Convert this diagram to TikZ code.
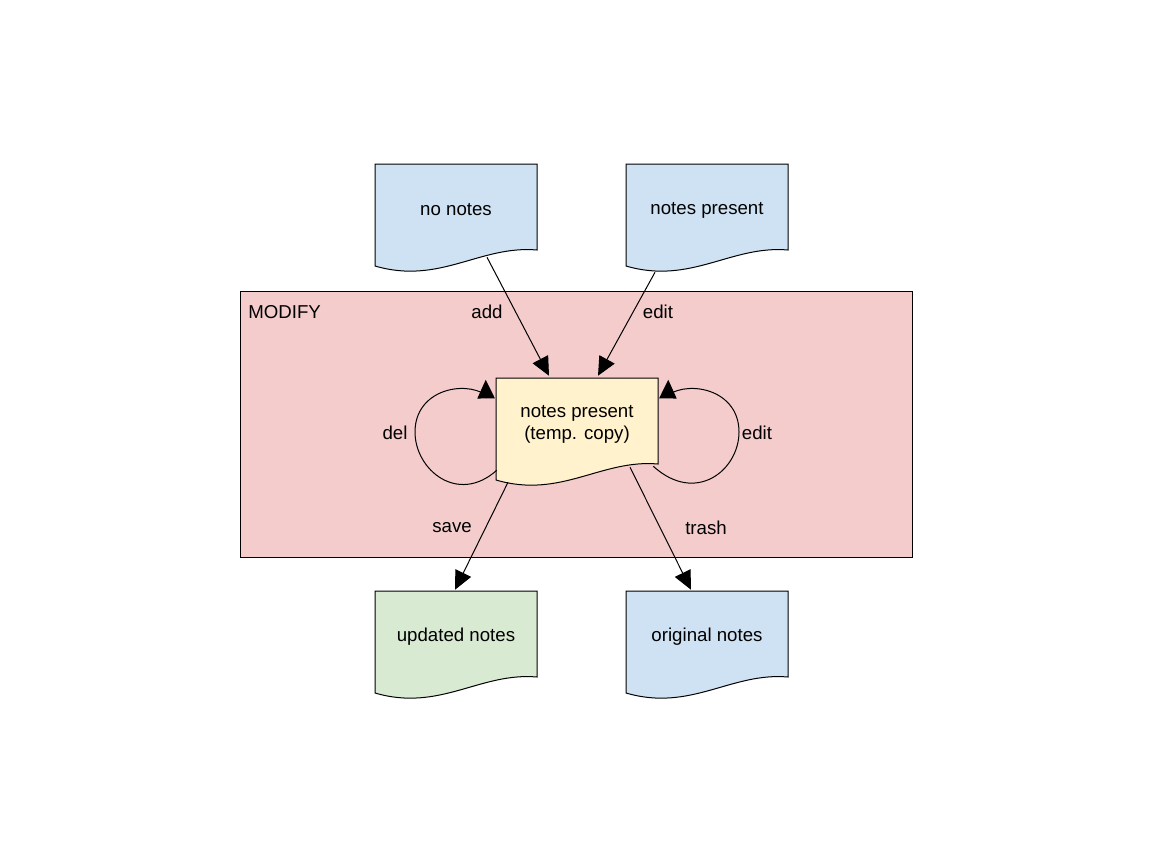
\documentclass[tikz,border=0pt]{standalone}
\usepackage{fontspec}
\setmainfont{Liberation Sans}
\usetikzlibrary{arrows.meta,calc}

\definecolor{noteblue}{HTML}{CFE2F3}
\definecolor{notegreen}{HTML}{D9EAD3}
\definecolor{noteyellow}{HTML}{FFF2CC}
\definecolor{modifyred}{HTML}{F4CCCC}

% document shape: name, centre, fill, text
\newcommand{\notedoc}[4]{%
	\filldraw[fill=#3, line width=0.75pt] ($(#2)+(-81,-43)$) -- ($(#2)+(81,-43)$) -- ($(#2)+(81,43)$)
		.. controls ($(#2)+(24,38)$) and ($(#2)+(-16,78)$) .. ($(#2)+(-81,59)$) -- cycle;
	\node[docbox] (#1) at ($(#2)+(0,3)$) {#4};
}

\begin{document}
\begin{tikzpicture}[x=0.75pt, y=-0.75pt,
		font=\fontsize{14}{16.5}\selectfont,
		docbox/.style={rectangle, minimum width=121.5pt, minimum height=64.5pt, inner sep=0pt, align=center},
		arr/.style={-{Triangle[length=14pt, width=13pt]}, line width=0.75pt}]
	\useasboundingbox (0,0) rectangle (1152,864);

	% modify area
	\filldraw[fill=modifyred, line width=0.75pt] (240,291) rectangle (912,557);
	\node[anchor=west, inner sep=0pt] (modify) at (248,312) {MODIFY};

	% documents
	\notedoc{nonotes}{456,207}{noteblue}{no notes}
	\notedoc{present}{707,207}{noteblue}{notes present}
	\notedoc{temp}{577,421}{noteyellow}{notes present\\(temp. copy)}
	\notedoc{updated}{456,634}{notegreen}{updated notes}
	\notedoc{original}{707,634}{noteblue}{original notes}

	% connectors
	\draw[arr] ($(nonotes.south)+(31,4)$) -- ($(temp.north)+(-28,-5)$);
	\draw[arr] ($(present.south)+(-52,19)$) -- ($(temp.north)+(21,-5)$);
	\draw[arr] ($(temp.south)+(-69,15)$) -- ($(updated.north)+(-1,-4)$);
	\draw[arr] ($(temp.south)+(53,0)$) -- ($(original.north)+(-16,-4)$);
	\draw[arr] ($(temp.south west)+(1,3)$) .. controls (458,505) and (415,470) .. (415,432)
		.. controls (415,390) and (464,380) .. (486,395) -- ($(temp.north west)+(-10,-1)$);
	\draw[arr] ($(temp.south east)+(-5,-1)$) .. controls (696,505) and (739,470) .. (739,432)
		.. controls (739,390) and (690,380) .. (668,395) -- ($(temp.north east)+(10,-1)$);

	% labels
	\node (addlbl) at (487,312) {add};
	\node (editlbl) at (658,312) {edit};
	\node (dellbl) at (395,433) {del};
	\node (loopeditlbl) at (757,433) {edit};
	\node (savelbl) at (452,528) {save};
	\node (trashlbl) at (706,528) {trash};
\end{tikzpicture}
\end{document}
